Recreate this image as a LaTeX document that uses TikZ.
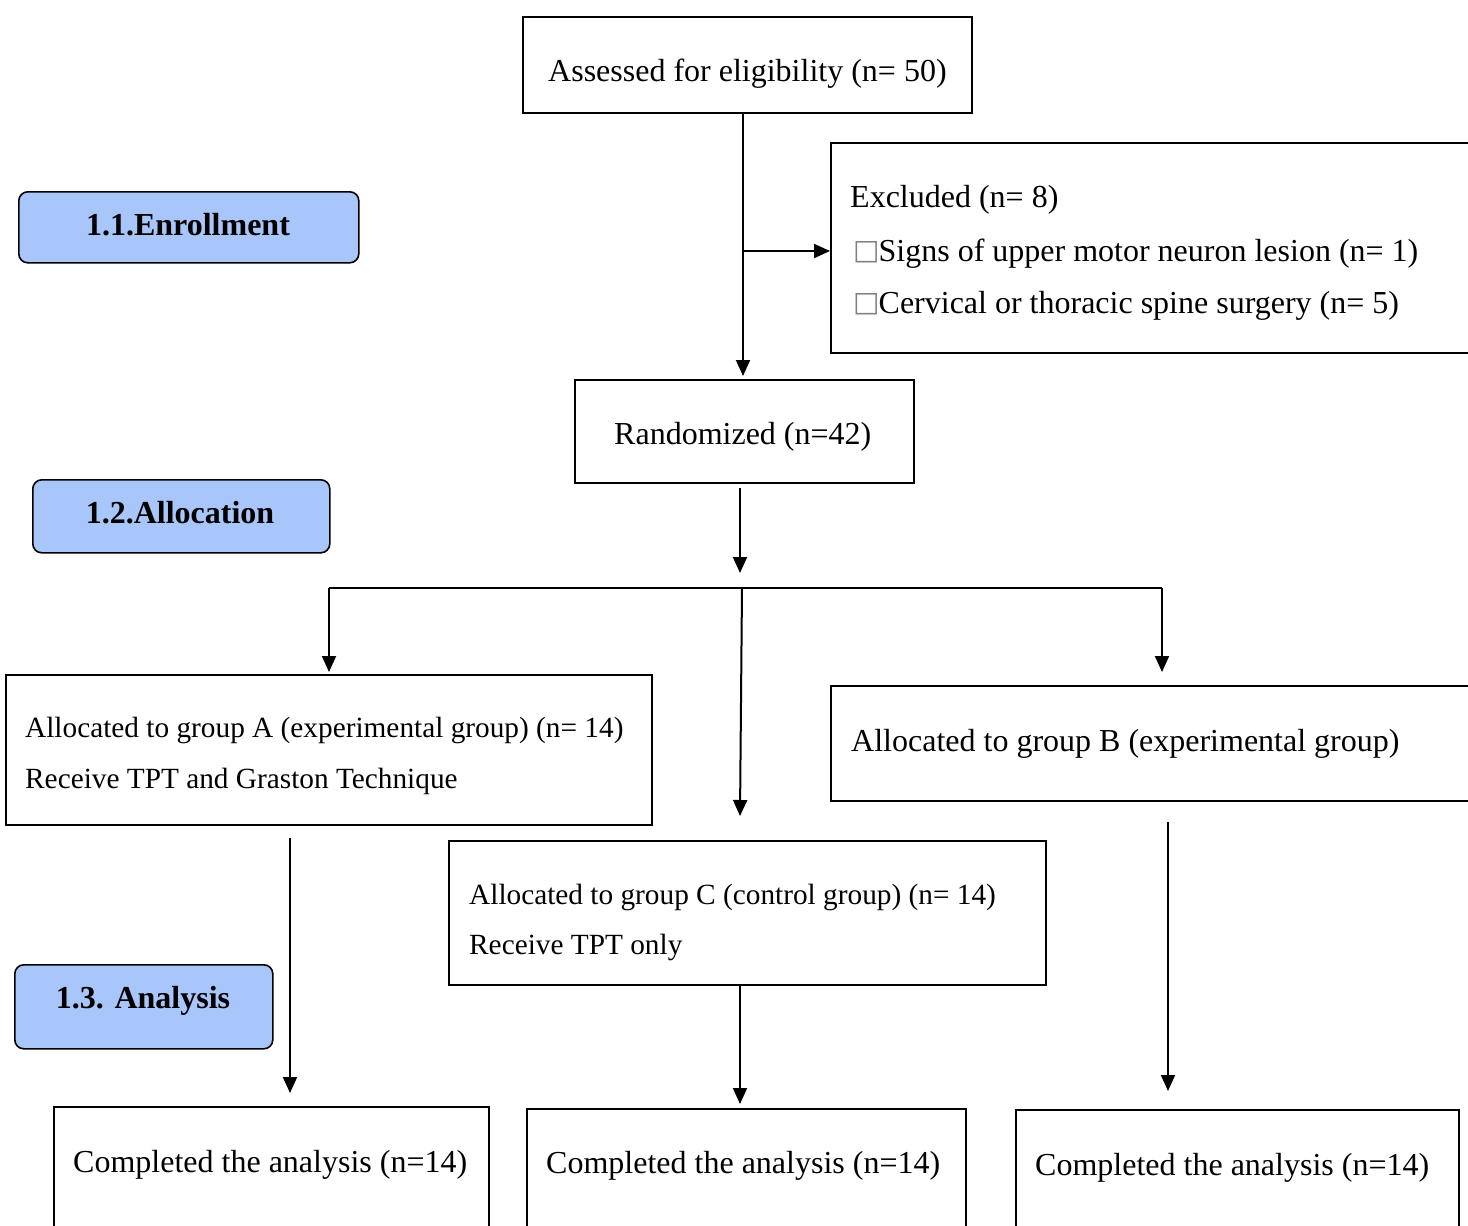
\documentclass[tikz,border=0pt]{standalone}
\usepackage{fontspec}
\setmainfont{Liberation Serif}
\newfontfamily\dvfont{DejaVu Sans}
\usetikzlibrary{arrows.meta}
\definecolor{lblue}{HTML}{A8C6FA}
\newcommand{\nobox}{\raisebox{1.5pt}{\color{gray}\dvfont\fontsize{28}{28}\selectfont □}\kern-1pt}
\begin{document}
\begin{tikzpicture}[x=1pt,y=-1pt,
  box/.style={draw=black,line width=1.6pt,anchor=north west,inner sep=0pt},
  lbl/.style={draw=black,line width=1.6pt,fill=lblue,rounded corners=9pt,anchor=north west,inner sep=0pt},
  txt/.style={anchor=base west,inner sep=0pt,font=\fontsize{32}{38}\selectfont},
  stxt/.style={anchor=base west,inner sep=0pt,font=\fontsize{29.3}{35}\selectfont},
  btxt/.style={anchor=base,inner sep=0pt,font=\fontsize{32}{38}\selectfont\bfseries},
  arr/.style={line width=2pt,-{Triangle[width=14pt,length=16pt]}},
  ln/.style={line width=2pt}]
\useasboundingbox (0,0) rectangle (1468,1226);
\clip (0,0) rectangle (1468,1226);
% boxes
\node[box,minimum width=449pt,minimum height=96pt] (assess) at (522,16) {};
\node[box,minimum width=660pt,minimum height=210pt] (excl) at (830,142) {};
\node[box,minimum width=339pt,minimum height=103pt] (rand) at (574,379) {};
\node[box,minimum width=646pt,minimum height=150pt] (ga) at (5,674) {};
\node[box,minimum width=660pt,minimum height=115pt] (gb) at (830,685) {};
\node[box,minimum width=597pt,minimum height=144pt] (gc) at (448,840) {};
\node[box,minimum width=435pt,minimum height=140pt] (ca) at (53,1106) {};
\node[box,minimum width=439pt,minimum height=140pt] (cc) at (526,1108) {};
\node[box,minimum width=443pt,minimum height=140pt] (cb) at (1015,1109) {};
% stage labels
\node[lbl,minimum width=340pt,minimum height=71pt] (enr) at (18,191) {};
\node[lbl,minimum width=297pt,minimum height=73pt] (alc) at (32,479) {};
\node[lbl,minimum width=258pt,minimum height=84pt] (ana) at (14,964) {};
\node[btxt] (enrt) at (188,235) {1.1.Enrollment};
\node[btxt] (alct) at (180,523) {1.2.Allocation};
\node[btxt] (anat) at (143,1008) {1.3. Analysis};
% texts
\node[txt] (t1) at (548,81) {Assessed for eligibility (n= 50)};
\node[txt] (t2) at (850,207) {Excluded (n= 8)};
\node[txt] (t3) at (853,261) {\nobox Signs of upper motor neuron lesion (n= 1)};
\node[txt] (t4) at (853,313) {\nobox Cervical or thoracic spine surgery (n= 5)};
\node[txt] (t5) at (614,444) {Randomized (n=42)};
\node[stxt] (t6) at (25,737) {Allocated to group A (experimental group) (n= 14)};
\node[stxt] (t7) at (25,788) {Receive TPT and Graston Technique};
\node[txt] (t8) at (851,751) {Allocated to group B (experimental group)};
\node[stxt] (t9) at (469,904) {Allocated to group C (control group) (n= 14)};
\node[stxt] (t10) at (469,954) {Receive TPT only};
\node[txt] (t11) at (73,1172) {Completed the analysis (n=14)};
\node[txt] (t12) at (546,1173) {Completed the analysis (n=14)};
\node[txt] (t13) at (1035,1175) {Completed the analysis (n=14)};
% coordinates
\coordinate (a0) at (743,112);
\coordinate (a1) at (743,376);
\coordinate (br) at (743,251);
\coordinate (r0) at (740,488);
\coordinate (r1) at (740,573);
\coordinate (hl) at (329,588);
\coordinate (hr) at (1162,588);
\coordinate (hm) at (742,588);
\coordinate (la) at (329,672);
\coordinate (lb) at (1162,672);
\coordinate (lc) at (740,816);
\coordinate (ga0) at (290,838);
\coordinate (ga1) at (290,1093);
\coordinate (gc0) at (740,984);
\coordinate (gc1) at (740,1104);
\coordinate (gb0) at (1168,822);
\coordinate (gb1) at (1168,1091);
% connectors
\draw[arr] (a0) -- (a1);
\draw[arr] (br) -- (excl.west |- br);
\draw[arr] (r0) -- (r1);
\draw[ln] (hl) -- (hr);
\draw[arr] (hl) -- (la);
\draw[arr] (hr) -- (lb);
\draw[arr] (hm) -- (lc);
\draw[arr] (ga0) -- (ga1);
\draw[arr] (gc0) -- (gc1);
\draw[arr] (gb0) -- (gb1);
\end{tikzpicture}
\end{document}
